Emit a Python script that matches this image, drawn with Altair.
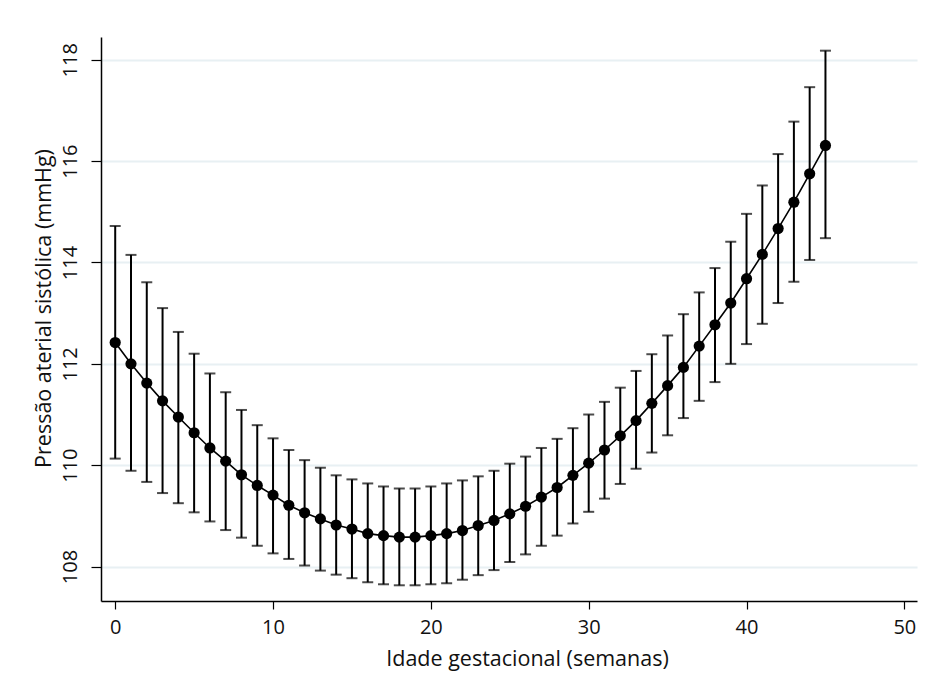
import altair as alt
import pandas as pd

weeks = list(range(46))
mean_bp = [112.42, 112.00, 111.62, 111.27, 110.95, 110.64, 110.34, 110.08, 109.81, 109.60,
           109.41, 109.21, 109.06, 108.94, 108.82, 108.74, 108.65, 108.61, 108.58, 108.58,
           108.61, 108.65, 108.71, 108.81, 108.91, 109.04, 109.19, 109.37, 109.56, 109.80,
           110.04, 110.30, 110.58, 110.88, 111.22, 111.57, 111.93, 112.35, 112.77, 113.20,
           113.68, 114.16, 114.67, 115.19, 115.75, 116.31]
upper_bp = [114.72, 114.15, 113.61, 113.10, 112.63, 112.20, 111.81, 111.44, 111.09, 110.79,
            110.53, 110.30, 110.10, 109.95, 109.80, 109.72, 109.64, 109.58, 109.54, 109.54,
            109.58, 109.64, 109.70, 109.78, 109.89, 110.03, 110.17, 110.34, 110.52, 110.73,
            111.00, 111.25, 111.53, 111.86, 112.19, 112.56, 112.98, 113.41, 113.89, 114.41,
            114.96, 115.52, 116.14, 116.78, 117.46, 118.18]
lower_bp = [110.13, 109.89, 109.67, 109.45, 109.25, 109.07, 108.89, 108.72, 108.57, 108.41,
            108.26, 108.15, 108.02, 107.92, 107.84, 107.77, 107.69, 107.65, 107.63, 107.63,
            107.65, 107.67, 107.74, 107.83, 107.93, 108.09, 108.24, 108.41, 108.61, 108.85,
            109.08, 109.34, 109.63, 109.93, 110.25, 110.59, 110.93, 111.27, 111.64, 112.00,
            112.39, 112.79, 113.20, 113.62, 114.05, 114.48]
x_ticks = [0, 10, 20, 30, 40, 50]
y_ticks = [108, 110, 112, 114, 116, 118]

df = pd.DataFrame({"semana": weeks, "media": mean_bp, "inf": lower_bp, "sup": upper_bp})

FONT = "Open Sans"

x_enc = alt.X("semana:Q",
              scale=alt.Scale(domain=[-0.9, 50.8], nice=False, zero=False),
              axis=alt.Axis(title="Idade gestacional (semanas)", values=x_ticks, grid=False,
                            tickSize=8, labelPadding=8, titlePadding=11, titleX=426,
                            titleAlign="center", format="d"))
y_enc = alt.Y("media:Q",
              scale=alt.Scale(domain=[107.32, 118.45], nice=False, zero=False),
              axis=alt.Axis(title="Pressão aterial sistólica (mmHg)", values=y_ticks, grid=True,
                            tickSize=10, labelAngle=270, labelAlign="center", labelBaseline="bottom",
                            labelPadding=11, titlePadding=5, titleY=271, titleAlign="center",
                            format="d"))

base = alt.Chart(df)

rules = base.mark_rule(color="black", strokeWidth=2).encode(
    x=x_enc, y=alt.Y("inf:Q"), y2="sup:Q")
caps_top = base.mark_tick(color="black", orient="horizontal", size=11, thickness=2).encode(
    x=x_enc, y=alt.Y("sup:Q"))
caps_bot = base.mark_tick(color="black", orient="horizontal", size=11, thickness=2).encode(
    x=x_enc, y=alt.Y("inf:Q"))
line = base.mark_line(color="black", strokeWidth=1.6).encode(x=x_enc, y=y_enc)
pts = base.mark_point(filled=True, color="black", opacity=1, size=125, shape="circle").encode(
    x=x_enc, y=y_enc)

chart = alt.layer(rules, caps_top, caps_bot, line, pts).properties(
    width=816, height=564,
    background="white",
    autosize=alt.AutoSizeParams(type="none"),
    padding={"left": 93, "top": 29, "right": 3, "bottom": 70},
).configure_view(stroke=None).configure_axis(
    domainColor="black", domainWidth=1.5, tickColor="black", tickWidth=1.2,
    gridColor="#e8f0f3", gridWidth=2,
    labelFont=FONT, labelFontSize=20, labelColor="#111111",
    titleFont=FONT, titleFontSize=21.5, titleColor="#111111", titleFontWeight="normal",
)

chart.save("out.html", embed_options={"renderer": "svg", "actions": False})
